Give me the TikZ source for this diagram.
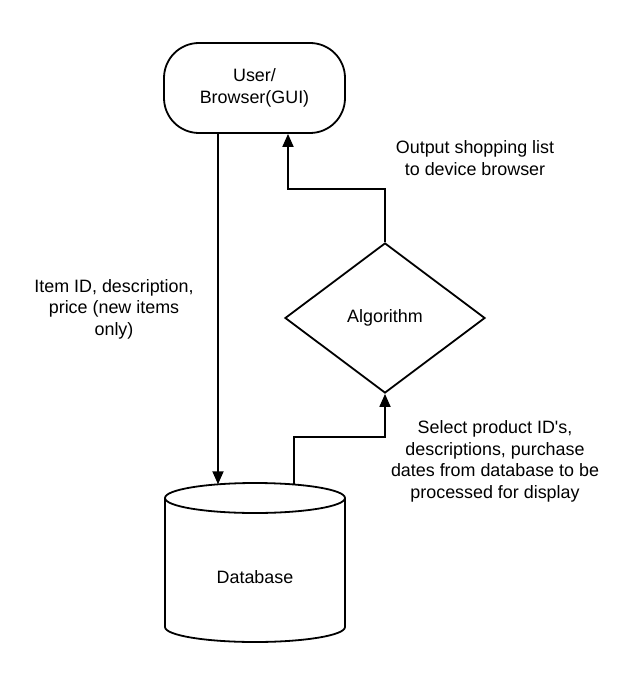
\documentclass[tikz,border=0pt]{standalone}
\usepackage{fontspec}
\setmainfont{Liberation Sans}
\usetikzlibrary{shapes.geometric,arrows.meta}
\begin{document}
\begin{tikzpicture}[x=1pt,y=-1pt,
  line/.style={line width=1.8pt},
  arr/.style={line, -{Triangle[length=13pt,width=11pt]}},
  lbl/.style={font=\fontsize{17.9}{21.5}\selectfont, align=center, inner sep=0pt},
  ]
\useasboundingbox (0,0) rectangle (643,679);
% user / browser
\node[draw, line, rounded corners=35pt, minimum width=181pt, minimum height=90pt, lbl] (user) at (254.5,88) {User/\\Browser(GUI)};
% algorithm
\node[diamond, aspect=1.333, draw, line, minimum width=200pt, minimum height=150pt, lbl] (alg) at (385,318) {Algorithm};
% database cylinder
\draw[line] (255,498) ellipse [x radius=90pt, y radius=15pt];
\draw[line] (165,498) -- (165,627) arc[start angle=180, end angle=360, x radius=90pt, y radius=15pt] -- (345,498);
\node[lbl] (db) at (255,577) {Database};
\coordinate (dbin) at (218,484.3);
\coordinate (dbout) at (294,484.5);
\coordinate (uin) at ([xshift=33.5pt]user.south);
% connectors
\draw[arr] (user.south -| dbin) -- (dbin);
\draw[arr] (alg.north) -- (alg.north |- 0,189) -| (uin);
\draw[arr] (dbout) |- (alg.south |- 0,437) -- (alg.south);
% labels
\node[lbl] (l1) at (475,158) {Output shopping list\\to device browser};
\node[lbl] (l2) at (114,309) {Item ID, description,\\price (new items\\only)};
\node[lbl] (l3) at (495,461.5) {Select product ID\textquotesingle s,\\descriptions, purchase\\dates from database to be\\processed for display};
\end{tikzpicture}
\end{document}
